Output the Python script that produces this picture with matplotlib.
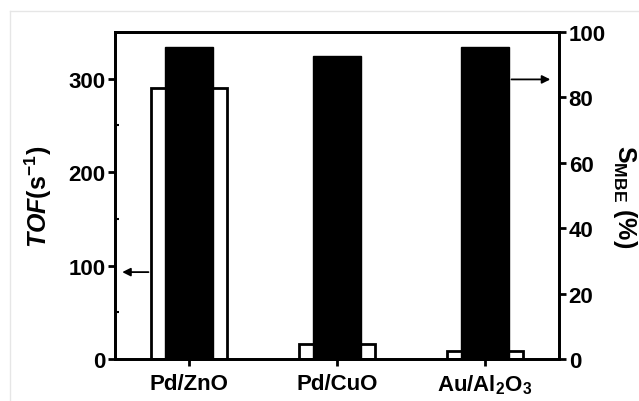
import numpy as np
import matplotlib
matplotlib.use("Agg")
import matplotlib.pyplot as plt
from matplotlib.lines import Line2D

plt.rcParams['font.family'] = ['Liberation Sans', 'DejaVu Sans']
plt.rcParams['font.weight'] = 'bold'
plt.rcParams['axes.labelweight'] = 'bold'
plt.rcParams['mathtext.fontset'] = 'custom'
plt.rcParams['mathtext.rm'] = 'Liberation Sans:bold'
plt.rcParams['mathtext.it'] = 'Liberation Sans:bold:italic'
plt.rcParams['mathtext.bf'] = 'Liberation Sans:bold'

catalysts = ['Pd/ZnO', 'Pd/CuO', r'Au/Al$_2$O$_3$']
tof = [290, 16, 9]          # s^-1, left axis (open bars)
s_mbe = [95.4, 92.6, 95.4]  # %, right axis (filled bars)

fig = plt.figure(figsize=(6.39, 4.02), dpi=100)
ax = fig.add_axes([115 / 639, 1 - 360 / 402, 444 / 639, 327 / 402])
ax2 = ax.twinx()

x = np.arange(len(catalysts))
ax.bar(x, tof, width=0.51, color='white', edgecolor='black', linewidth=2, zorder=2)
ax2.bar(x, s_mbe, width=0.32, color='black', edgecolor='black', linewidth=1, zorder=3)

ax.set_xlim(-0.5, 2.5)
ax.set_ylim(0, 350)
ax2.set_ylim(0, 100)

ax.set_xticks(x)
ax.set_xticklabels(catalysts, fontsize=16)
ax.set_yticks([0, 100, 200, 300])
ax.set_yticks([50, 150, 250], minor=True)
ax2.set_yticks([0, 20, 40, 60, 80, 100])
ax.tick_params(axis='y', which='major', direction='out', length=5, width=2, labelsize=16, pad=2)
ax.tick_params(axis='y', which='minor', direction='in', length=3, width=1.5)
ax.tick_params(axis='x', direction='out', length=5, width=2, pad=5)
ax2.tick_params(axis='y', direction='out', length=5, width=2, labelsize=16, pad=2)

for a in (ax, ax2):
    for s in a.spines.values():
        s.set_linewidth(2)

ax.set_ylabel(r'$\it{TOF}$(s$^{-1}$)', fontsize=18, fontweight='bold', labelpad=10)
ax2.set_ylabel(r'S$_{\rm MBE}$ (%)', fontsize=18, fontweight='bold', rotation=-90, labelpad=24)

# arrows pointing to the respective axes
ax.annotate('', xy=(-0.47, 93), xytext=(-0.255, 93),
            arrowprops=dict(arrowstyle='-|>', color='black', lw=1.3, mutation_scale=12), zorder=4)
ax2.annotate('', xy=(2.46, 85.5), xytext=(2.16, 85.5),
             arrowprops=dict(arrowstyle='-|>', color='black', lw=1.3, mutation_scale=12), zorder=4)

# faint frame of the original screenshot
fig.add_artist(Line2D([10 / 639, 1], [1 - 12 / 402] * 2, color='#e6e6e6', lw=1))
fig.add_artist(Line2D([10 / 639] * 2, [0, 1 - 12 / 402], color='#e6e6e6', lw=1))

fig.savefig('out.png', dpi=100)
